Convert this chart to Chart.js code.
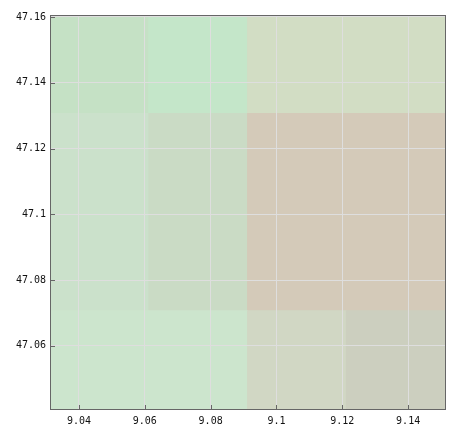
<!DOCTYPE html>
<html>
<head>
<meta charset="utf-8">
<script src="https://cdn.jsdelivr.net/npm/chart.js@4/dist/chart.umd.min.js"></script>
<style>
  html, body { margin: 0; padding: 0; background: #fff; }
  #wrap { width: 470px; height: 435px; }
</style>
</head>
<body>
<div id="wrap"><canvas id="c" width="470" height="435"></canvas></div>
<script>
// Grid cell edges (longitude columns, latitude rows)
const lonEdges = [9.0312, 9.0612, 9.0912, 9.1212, 9.1512];
const latEdges = [47.0407, 47.0707, 47.1307, 47.1607];
// Cell colours, row by row from bottom (south) to top (north)
const rowColors = [
  ['#cce5cd', '#cce5cd', '#d1d7c4', '#cccfbf'],
  ['#cbe1cb', '#cadbc5', '#d4cab9', '#d4cab9'],
  ['#c5e1c5', '#c4e6c9', '#d2ddc4', '#d2ddc4']
];
// Axis ranges and tick values
const xRange = [9.0312, 9.1512];
const yRange = [47.0405, 47.1603];
const xTickValues = [9.04, 9.06, 9.08, 9.1, 9.12, 9.14];
const yTickValues = [47.06, 47.08, 47.1, 47.12, 47.14, 47.16];

const centers = lonEdges.slice(0, -1).map((e, i) => (e + lonEdges[i + 1]) / 2);
// Chart.js sizes bars from the smallest spacing (here the tick step), so scale up to cell width
const cellWidth = lonEdges[1] - lonEdges[0];
const tickStep = xTickValues[1] - xTickValues[0];
const datasets = rowColors.map((cols, r) => ({
  data: centers.map(x => ({ x: x, y: [latEdges[r], latEdges[r + 1]] })),
  backgroundColor: cols,
  borderWidth: 0,
  barPercentage: cellWidth / tickStep,
  categoryPercentage: 1,
  inflateAmount: 0.4,
  grouped: false
}));

const fmt = v => String(Math.round(v * 100) / 100);
const font = { family: 'DejaVu Sans Mono', size: 10 };

const framePlugin = {
  id: 'frame',
  afterDraw(chart) {
    const { ctx, chartArea: a, scales } = chart;
    ctx.save();
    ctx.strokeStyle = '#666';
    ctx.lineWidth = 1;
    ctx.beginPath();
    scales.x.ticks.forEach(t => {
      const px = Math.round(scales.x.getPixelForValue(t.value)) + 0.5;
      ctx.moveTo(px, Math.round(a.bottom));
      ctx.lineTo(px, Math.round(a.bottom) - 5);
    });
    scales.y.ticks.forEach(t => {
      const py = Math.round(scales.y.getPixelForValue(t.value)) + 0.5;
      ctx.moveTo(Math.round(a.left), py);
      ctx.lineTo(Math.round(a.left) + 5, py);
    });
    ctx.stroke();
    ctx.strokeRect(Math.round(a.left) + 0.5, Math.round(a.top) - 0.5,
      Math.round(a.right) - Math.round(a.left), Math.round(a.bottom) - Math.round(a.top));
    ctx.restore();
  }
};

new Chart(document.getElementById('c'), {
  type: 'bar',
  data: { datasets },
  options: {
    responsive: false,
    animation: false,
    layout: { padding: { top: 16, right: 25, bottom: 0, left: 0 } },
    plugins: { legend: { display: false }, tooltip: { enabled: false } },
    scales: {
      x: {
        type: 'linear',
        min: xRange[0], max: xRange[1],
        offset: false,
        afterFit: s => { s.height = 25; },
        afterBuildTicks: s => { s.ticks = xTickValues.map(v => ({ value: v })); },
        grid: { color: '#dedede', z: 1, drawTicks: false, offset: false },
        border: { display: false },
        ticks: { callback: fmt, font, color: '#111', padding: 5, maxRotation: 0, autoSkip: false }
      },
      y: {
        type: 'linear',
        min: yRange[0], max: yRange[1],
        afterFit: s => { s.width = 50; },
        afterBuildTicks: s => { s.ticks = yTickValues.map(v => ({ value: v })); },
        grid: { color: '#dedede', z: 1, drawTicks: false, offset: false },
        border: { display: false },
        ticks: { callback: fmt, font, color: '#111', padding: 4, autoSkip: false }
      }
    }
  },
  plugins: [framePlugin]
});
</script>
</body>
</html>
